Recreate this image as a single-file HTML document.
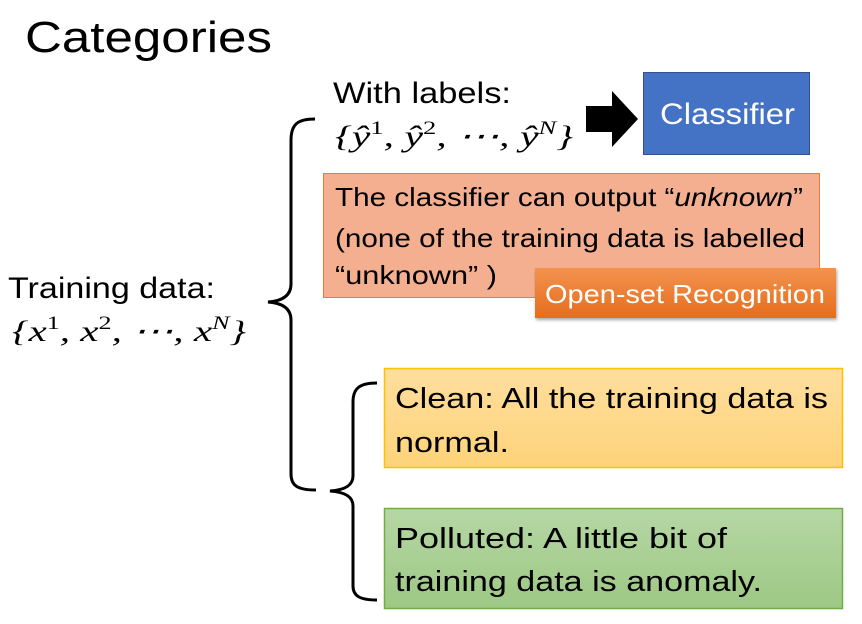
<!DOCTYPE html>
<html><head><meta charset="utf-8"><style>
html,body{margin:0;padding:0;background:#fff;}
svg{display:block;}
text{font-family:"Liberation Sans",sans-serif;}
.m{font-family:"Liberation Serif",serif;font-style:italic;}
</style></head><body>
<svg width="862" height="624" viewBox="0 0 862 624" xmlns="http://www.w3.org/2000/svg">
<defs>
<linearGradient id="go" x1="0" y1="0" x2="0" y2="1"><stop offset="0" stop-color="#f3924f"/><stop offset="1" stop-color="#e56d1c"/></linearGradient>
<linearGradient id="gy" x1="0" y1="0" x2="0" y2="1"><stop offset="0" stop-color="#ffde9e"/><stop offset="1" stop-color="#fdd37a"/></linearGradient>
<linearGradient id="gg" x1="0" y1="0" x2="0" y2="1"><stop offset="0" stop-color="#b6d7a5"/><stop offset="1" stop-color="#9dc884"/></linearGradient>
<filter id="sh" x="-5%" y="-20%" width="110%" height="150%"><feDropShadow dx="1" dy="2" stdDeviation="1.5" flood-opacity="0.35"/></filter>
</defs>
<text x="25" y="52" font-size="44" textLength="247" lengthAdjust="spacingAndGlyphs">Categories</text>

<!-- big brace -->
<path d="M315,119 C298,119 291,124 291,140 L291,284 C291,296 282,301 268,302 C282,303 291,308 291,320 L291,474 C291,486 298,490 316,490" fill="none" stroke="#000" stroke-width="3"/>
<!-- small brace -->
<path d="M377,383 C360,383 353,388 353,402 L353,476 C353,486 344,490 330,491 C344,492 353,496 353,506 L353,586 C353,596 360,600 377,600" fill="none" stroke="#000" stroke-width="3"/>

<text x="333" y="103" font-size="30" textLength="178" lengthAdjust="spacingAndGlyphs">With labels:</text>
<text x="335" y="146" font-size="30" class="m" textLength="238" lengthAdjust="spacingAndGlyphs">{ŷ<tspan font-size="19" dy="-12" font-style="normal">1</tspan><tspan dy="12">, ŷ</tspan><tspan font-size="19" dy="-12" font-style="normal">2</tspan><tspan dy="12">, ⋯, ŷ</tspan><tspan font-size="19" dy="-12">N</tspan><tspan dy="12">}</tspan></text>

<!-- arrow -->
<polygon points="586,106 612,106 612,91 638,119 612,147 612,132 586,132" fill="#000"/>

<rect x="643.5" y="72.5" width="166" height="82" fill="#4472c4" stroke="#2f528f" stroke-width="1"/>
<text x="660" y="124" font-size="30" fill="#fff" textLength="135" lengthAdjust="spacingAndGlyphs">Classifier</text>

<rect x="323.5" y="173.5" width="496" height="124" fill="#f4af91" stroke="#ed7d31" stroke-width="1"/>
<text x="335" y="206" font-size="26" textLength="468" lengthAdjust="spacingAndGlyphs">The classifier can output “<tspan font-style="italic">unknown</tspan>”</text>
<text x="335" y="247" font-size="26" textLength="470" lengthAdjust="spacingAndGlyphs">(none of the training data is labelled</text>
<text x="335" y="284" font-size="26" textLength="162" lengthAdjust="spacingAndGlyphs">“unknown” )</text>

<rect x="535" y="268" width="301" height="50" fill="url(#go)" filter="url(#sh)"/>
<text x="545" y="303" font-size="26" fill="#fff" textLength="280" lengthAdjust="spacingAndGlyphs">Open-set Recognition</text>

<text x="8" y="298" font-size="30" textLength="207" lengthAdjust="spacingAndGlyphs">Training data:</text>
<text x="12" y="341" font-size="30" class="m" textLength="234" lengthAdjust="spacingAndGlyphs">{x<tspan font-size="19" dy="-12" font-style="normal">1</tspan><tspan dy="12">, x</tspan><tspan font-size="19" dy="-12" font-style="normal">2</tspan><tspan dy="12">, ⋯, x</tspan><tspan font-size="19" dy="-12">N</tspan><tspan dy="12">}</tspan></text>

<rect x="384.5" y="368.5" width="458" height="99" fill="url(#gy)" stroke="#ffc000" stroke-width="1.5"/>
<text x="395" y="408" font-size="29" textLength="433" lengthAdjust="spacingAndGlyphs">Clean: All the training data is</text>
<text x="395" y="452" font-size="29" textLength="114" lengthAdjust="spacingAndGlyphs">normal.</text>

<rect x="384.5" y="508.5" width="458" height="100" fill="url(#gg)" stroke="#70ad47" stroke-width="1.5"/>
<text x="395" y="548" font-size="29" textLength="332" lengthAdjust="spacingAndGlyphs">Polluted: A little bit of</text>
<text x="395" y="591" font-size="29" textLength="367" lengthAdjust="spacingAndGlyphs">training data is anomaly.</text>
</svg>
</body></html>
